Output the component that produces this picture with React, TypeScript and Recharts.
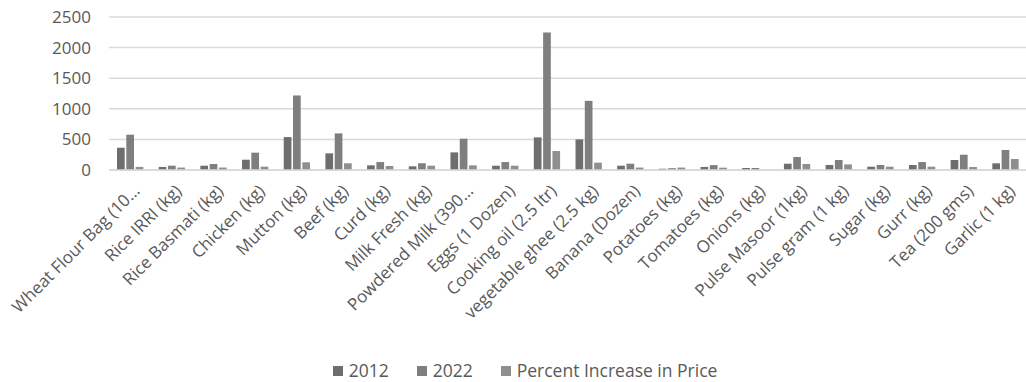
import { BarChart, Bar, XAxis, YAxis, CartesianGrid, Legend } from 'recharts';

const categories = [
  'Wheat Flour Bag (10…',
  'Rice IRRI (kg)',
  'Rice Basmati (kg)',
  'Chicken (kg)',
  'Mutton (kg)',
  'Beef (kg)',
  'Curd (kg)',
  'Milk Fresh (kg)',
  'Powdered Milk (390…',
  'Eggs (1 Dozen)',
  'Cooking oil (2.5 ltr)',
  'vegetable ghee (2.5 kg)',
  'Banana (Dozen)',
  'Potatoes (kg)',
  'Tomatoes (kg)',
  'Onions (kg)',
  'Pulse Masoor (1kg)',
  'Pulse gram (1 kg)',
  'Sugar (kg)',
  'Gurr (kg)',
  'Tea (200 gms)',
  'Garlic (1 kg)',
];

const price2012 = [364, 50, 70, 168, 538, 272, 76, 60, 288, 70, 533, 500, 70, 20, 50, 33, 103, 82, 54, 82, 163, 109];
const price2022 = [577, 70, 98, 283, 1218, 598, 130, 110, 511, 130, 2245, 1130, 103, 30, 80, 33, 212, 163, 82, 130, 250, 327];
const percentIncrease = [50, 40, 40, 55, 126, 110, 65, 70, 76, 70, 310, 120, 40, 40, 38, 0, 98, 92, 54, 54, 49, 180];

const yTicks = [0, 500, 1000, 1500, 2000, 2500];

const seriesColors = ['#6e6e6e', '#7f7f7f', '#8f8f8f'];
const seriesNames = ['2012', '2022', 'Percent Increase in Price'];

const data = categories.map((name, i) => ({
  name,
  y2012: price2012[i],
  y2022: price2022[i],
  pct: percentIncrease[i],
}));

const fontFamily = '"Open Sans", sans-serif';

function CategoryTick({ x, y, payload }: { x?: number; y?: number; payload?: { value: string } }) {
  return (
    <g transform={`translate(${(x ?? 0) + 11},${(y ?? 0) + 14})`}>
      <text
        textAnchor="end"
        transform="rotate(-45)"
        fill="#595959"
        fontSize={17}
        fontFamily={fontFamily}
      >
        {payload?.value}
      </text>
    </g>
  );
}

function LegendContent() {
  return (
    <div
      style={{
        display: 'flex',
        justifyContent: 'center',
        gap: 28,
        fontFamily,
        fontSize: 17.5,
        lineHeight: '21px',
        color: '#595959',
        paddingLeft: 24,
        paddingTop: 8,
      }}
    >
      {seriesNames.map((n, i) => (
        <div key={n} style={{ display: 'flex', alignItems: 'center', gap: 6 }}>
          <span style={{ width: 10, height: 10, background: seriesColors[i], display: 'inline-block' }} />
          <span>{n}</span>
        </div>
      ))}
    </div>
  );
}

export default function App() {
  return (
    <div style={{ position: 'absolute', left: 0, top: 0, background: '#fff' }}>
      <BarChart
        width={1026}
        height={382}
        data={data}
        margin={{ top: 17, right: 0, left: 0, bottom: 0 }}
        barGap={1.6}
        barSize={7.7}
      >
        <CartesianGrid vertical={false} stroke="#d9d9d9" strokeWidth={1.5} />
        <XAxis
          dataKey="name"
          interval={0}
          tickLine={false}
          axisLine={{ stroke: '#d9d9d9', strokeWidth: 1.5 }}
          height={182}
          tick={<CategoryTick />}
        />
        <YAxis
          width={109}
          domain={[0, 2500]}
          ticks={yTicks}
          tickLine={false}
          axisLine={false}
          tickMargin={12}
          tick={{ fill: '#595959', fontSize: 17, fontFamily }}
        />
        <Legend verticalAlign="bottom" height={30} content={<LegendContent />} />
        <Bar dataKey="y2012" name="2012" fill={seriesColors[0]} isAnimationActive={false} />
        <Bar dataKey="y2022" name="2022" fill={seriesColors[1]} isAnimationActive={false} />
        <Bar dataKey="pct" name="Percent Increase in Price" fill={seriesColors[2]} isAnimationActive={false} />
      </BarChart>
    </div>
  );
}
